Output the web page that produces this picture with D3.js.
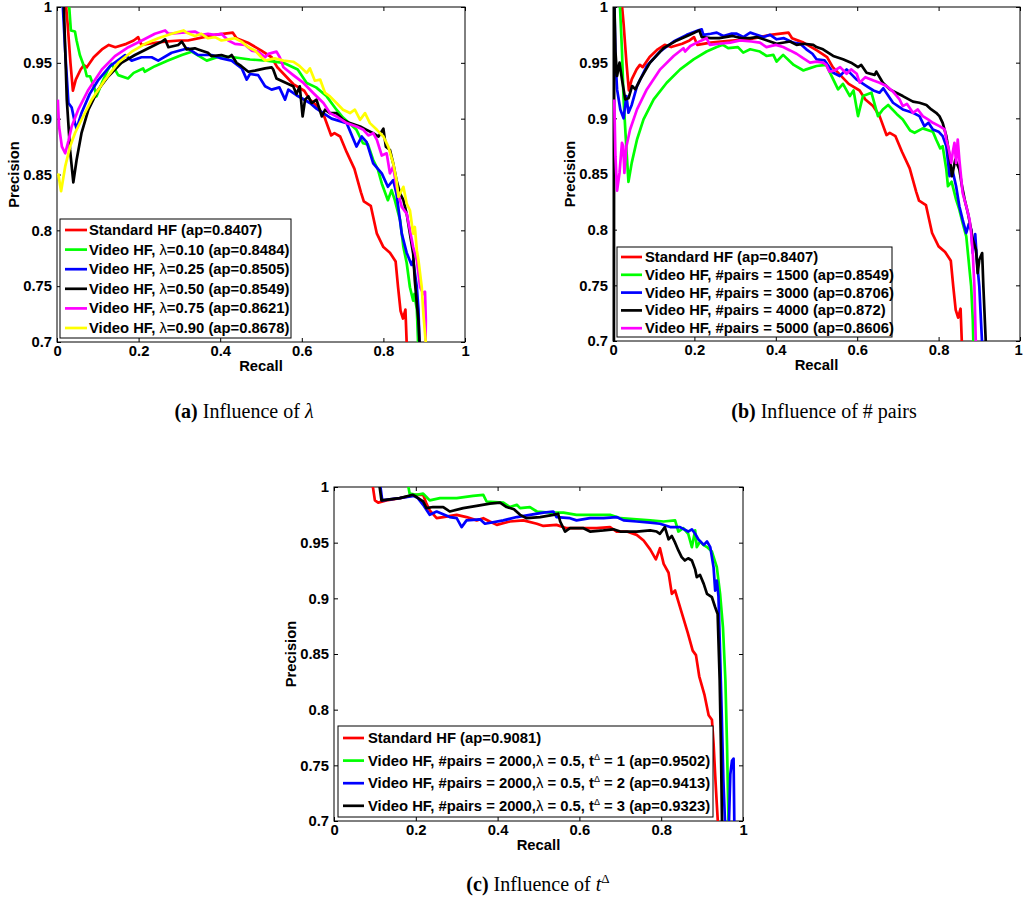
<!DOCTYPE html>
<html>
<head>
<meta charset="utf-8">
<script src="https://cdn.jsdelivr.net/npm/d3@7"></script>
<style>
  body { margin: 0; background: #fff; }
  svg { display: block; }
  .ax text, .lbl, .leg text { font-family: "Liberation Sans", Arial, Helvetica, sans-serif; font-weight: bold; font-size: 14.8px; fill: #000; }
  .cap { font-family: "Liberation Serif", "Times New Roman", serif; font-size: 20px; fill: #000; }
</style>
</head>
<body>
<div id="chart"></div>
<script>
// ticks
const xTicks = [0, 0.2, 0.4, 0.6, 0.8, 1];
const yTicks = [0.7, 0.75, 0.8, 0.85, 0.9, 0.95, 1];

// series [recall, precision]
const standardHF = [[0.020,1.01],[0.026,0.985],[0.033,0.95],[0.039,0.925],[0.046,0.935],[0.058,0.944],[0.066,0.948],[0.073,0.946],[0.09,0.955],[0.11,0.962],[0.127,0.966],[0.143,0.964],[0.17,0.967],[0.188,0.970],[0.199,0.973],[0.207,0.966],[0.24,0.968],[0.265,0.969],[0.30,0.970],[0.321,0.970],[0.36,0.973],[0.387,0.975],[0.431,0.977],[0.440,0.972],[0.468,0.968],[0.501,0.961],[0.526,0.955],[0.540,0.946],[0.579,0.931],[0.606,0.925],[0.620,0.917],[0.639,0.911],[0.655,0.902],[0.672,0.885],[0.680,0.887],[0.694,0.884],[0.710,0.870],[0.729,0.855],[0.745,0.834],[0.752,0.826],[0.769,0.822],[0.784,0.797],[0.800,0.785],[0.816,0.780],[0.830,0.772],[0.836,0.749],[0.842,0.728],[0.848,0.721],[0.854,0.729],[0.858,0.69]];

const lambda010 = [[0.028,1.01],[0.034,0.979],[0.044,0.978],[0.048,0.970],[0.056,0.957],[0.069,0.944],[0.073,0.938],[0.081,0.938],[0.093,0.926],[0.097,0.920],[0.11,0.932],[0.125,0.944],[0.134,0.949],[0.142,0.944],[0.150,0.939],[0.174,0.936],[0.188,0.941],[0.211,0.945],[0.215,0.942],[0.240,0.947],[0.272,0.952],[0.306,0.957],[0.330,0.960],[0.367,0.952],[0.40,0.956],[0.433,0.955],[0.473,0.953],[0.514,0.952],[0.555,0.950],[0.59,0.944],[0.612,0.932],[0.635,0.928],[0.661,0.920],[0.685,0.908],[0.701,0.901],[0.734,0.890],[0.750,0.878],[0.762,0.877],[0.775,0.863],[0.787,0.854],[0.796,0.842],[0.811,0.827],[0.820,0.836],[0.828,0.827],[0.841,0.809],[0.849,0.785],[0.857,0.771],[0.865,0.749],[0.873,0.737],[0.876,0.743],[0.882,0.729],[0.886,0.69]];

const lambda025 = [[0.013,1.01],[0.020,0.961],[0.028,0.914],[0.036,0.910],[0.044,0.896],[0.048,0.891],[0.06,0.905],[0.08,0.922],[0.10,0.934],[0.13,0.947],[0.167,0.957],[0.183,0.952],[0.207,0.955],[0.232,0.955],[0.248,0.952],[0.281,0.959],[0.321,0.963],[0.346,0.957],[0.379,0.957],[0.403,0.954],[0.428,0.952],[0.453,0.945],[0.465,0.935],[0.473,0.940],[0.493,0.939],[0.510,0.929],[0.526,0.926],[0.545,0.928],[0.559,0.917],[0.567,0.926],[0.587,0.921],[0.620,0.914],[0.636,0.909],[0.673,0.900],[0.710,0.896],[0.734,0.875],[0.747,0.884],[0.759,0.879],[0.775,0.860],[0.796,0.851],[0.811,0.839],[0.824,0.845],[0.832,0.833],[0.845,0.797],[0.857,0.780],[0.869,0.769],[0.873,0.773],[0.882,0.749],[0.886,0.729],[0.889,0.69]];

const lambda050 = [[0.016,1.01],[0.024,0.917],[0.032,0.872],[0.040,0.843],[0.048,0.863],[0.060,0.887],[0.077,0.908],[0.101,0.926],[0.126,0.938],[0.158,0.950],[0.191,0.957],[0.224,0.963],[0.257,0.969],[0.265,0.971],[0.273,0.964],[0.297,0.966],[0.306,0.969],[0.318,0.962],[0.338,0.963],[0.346,0.962],[0.370,0.959],[0.379,0.956],[0.403,0.957],[0.420,0.955],[0.428,0.957],[0.440,0.950],[0.452,0.947],[0.469,0.942],[0.485,0.943],[0.510,0.945],[0.526,0.946],[0.530,0.944],[0.538,0.936],[0.555,0.933],[0.579,0.929],[0.587,0.922],[0.595,0.929],[0.602,0.902],[0.608,0.917],[0.616,0.920],[0.624,0.914],[0.636,0.917],[0.649,0.902],[0.657,0.908],[0.669,0.905],[0.685,0.905],[0.701,0.899],[0.718,0.896],[0.743,0.893],[0.759,0.890],[0.775,0.887],[0.788,0.884],[0.800,0.891],[0.806,0.875],[0.816,0.872],[0.824,0.860],[0.832,0.845],[0.841,0.833],[0.849,0.827],[0.857,0.815],[0.865,0.797],[0.873,0.779],[0.877,0.755],[0.882,0.734],[0.886,0.719],[0.890,0.69]];

const lambda075 = [[0.002,0.917],[0.005,0.893],[0.012,0.875],[0.020,0.869],[0.028,0.880],[0.036,0.893],[0.052,0.908],[0.077,0.926],[0.110,0.944],[0.142,0.956],[0.175,0.964],[0.208,0.970],[0.240,0.976],[0.265,0.979],[0.273,0.976],[0.306,0.977],[0.338,0.978],[0.354,0.975],[0.370,0.976],[0.387,0.975],[0.403,0.976],[0.420,0.970],[0.436,0.967],[0.461,0.966],[0.477,0.961],[0.493,0.960],[0.510,0.955],[0.518,0.958],[0.538,0.960],[0.546,0.955],[0.555,0.946],[0.579,0.939],[0.604,0.932],[0.628,0.923],[0.653,0.914],[0.669,0.905],[0.685,0.902],[0.710,0.896],[0.734,0.893],[0.751,0.890],[0.763,0.885],[0.775,0.887],[0.784,0.881],[0.796,0.867],[0.808,0.869],[0.816,0.851],[0.824,0.857],[0.832,0.839],[0.845,0.821],[0.857,0.815],[0.865,0.800],[0.873,0.785],[0.882,0.773],[0.886,0.761],[0.890,0.749],[0.898,0.743],[0.902,0.745],[0.904,0.72],[0.903,0.69]];

const lambda090 = [[0.003,0.851],[0.010,0.835],[0.020,0.857],[0.032,0.875],[0.044,0.887],[0.060,0.899],[0.085,0.917],[0.118,0.935],[0.150,0.950],[0.183,0.960],[0.216,0.967],[0.248,0.972],[0.281,0.976],[0.310,0.979],[0.318,0.977],[0.338,0.974],[0.354,0.976],[0.370,0.972],[0.387,0.973],[0.403,0.970],[0.420,0.971],[0.436,0.972],[0.452,0.969],[0.469,0.964],[0.485,0.961],[0.501,0.955],[0.510,0.952],[0.534,0.954],[0.555,0.952],[0.579,0.951],[0.595,0.947],[0.612,0.941],[0.620,0.945],[0.632,0.934],[0.645,0.935],[0.657,0.923],[0.669,0.920],[0.685,0.914],[0.701,0.908],[0.718,0.905],[0.730,0.908],[0.743,0.899],[0.755,0.905],[0.767,0.896],[0.784,0.890],[0.800,0.884],[0.812,0.875],[0.824,0.860],[0.832,0.845],[0.837,0.830],[0.849,0.839],[0.857,0.824],[0.865,0.818],[0.873,0.797],[0.877,0.803],[0.882,0.782],[0.886,0.773],[0.894,0.749],[0.898,0.725],[0.906,0.69]];

const pairs1500 = [[0.016,1.01],[0.022,0.961],[0.026,0.917],[0.033,0.872],[0.038,0.843],[0.046,0.860],[0.059,0.881],[0.075,0.899],[0.100,0.917],[0.132,0.932],[0.165,0.944],[0.198,0.953],[0.230,0.960],[0.255,0.964],[0.270,0.966],[0.283,0.963],[0.307,0.964],[0.320,0.959],[0.337,0.962],[0.361,0.960],[0.377,0.956],[0.394,0.957],[0.402,0.951],[0.418,0.957],[0.435,0.951],[0.444,0.948],[0.468,0.943],[0.475,0.944],[0.500,0.947],[0.524,0.948],[0.533,0.941],[0.553,0.926],[0.565,0.931],[0.582,0.920],[0.591,0.925],[0.602,0.902],[0.614,0.920],[0.635,0.923],[0.651,0.902],[0.663,0.908],[0.676,0.912],[0.697,0.904],[0.712,0.899],[0.730,0.889],[0.741,0.887],[0.761,0.891],[0.786,0.888],[0.794,0.881],[0.804,0.873],[0.810,0.875],[0.819,0.854],[0.823,0.839],[0.832,0.843],[0.843,0.827],[0.851,0.818],[0.859,0.806],[0.868,0.794],[0.876,0.764],[0.880,0.749],[0.884,0.719],[0.886,0.69]];

const pairs3000 = [[0.003,1.01],[0.006,0.953],[0.010,0.926],[0.018,0.908],[0.026,0.900],[0.033,0.920],[0.038,0.905],[0.046,0.912],[0.059,0.929],[0.083,0.947],[0.116,0.960],[0.149,0.969],[0.181,0.975],[0.210,0.979],[0.218,0.980],[0.222,0.975],[0.240,0.976],[0.255,0.977],[0.271,0.974],[0.290,0.976],[0.304,0.976],[0.320,0.973],[0.337,0.977],[0.353,0.975],[0.370,0.973],[0.386,0.975],[0.402,0.971],[0.420,0.972],[0.443,0.968],[0.460,0.967],[0.475,0.962],[0.490,0.958],[0.500,0.953],[0.520,0.952],[0.541,0.941],[0.557,0.938],[0.574,0.944],[0.598,0.935],[0.623,0.929],[0.640,0.925],[0.655,0.923],[0.664,0.927],[0.688,0.914],[0.712,0.908],[0.737,0.905],[0.753,0.902],[0.765,0.893],[0.775,0.896],[0.786,0.890],[0.800,0.888],[0.810,0.884],[0.819,0.875],[0.827,0.848],[0.835,0.852],[0.843,0.839],[0.851,0.821],[0.859,0.809],[0.868,0.797],[0.874,0.805],[0.880,0.800],[0.884,0.779],[0.890,0.796],[0.894,0.773],[0.900,0.749],[0.904,0.719],[0.908,0.69]];

const pairs4000 = [[0.002,0.60],[0.003,1.01],[0.006,0.96],[0.010,0.938],[0.016,0.950],[0.022,0.935],[0.030,0.917],[0.038,0.918],[0.047,0.929],[0.055,0.926],[0.067,0.935],[0.091,0.950],[0.124,0.963],[0.157,0.970],[0.189,0.975],[0.212,0.979],[0.218,0.973],[0.240,0.972],[0.261,0.972],[0.294,0.974],[0.315,0.972],[0.337,0.972],[0.353,0.973],[0.370,0.971],[0.386,0.969],[0.402,0.967],[0.435,0.969],[0.451,0.966],[0.470,0.967],[0.492,0.966],[0.500,0.964],[0.516,0.962],[0.541,0.956],[0.565,0.953],[0.585,0.950],[0.602,0.946],[0.610,0.948],[0.623,0.941],[0.643,0.939],[0.647,0.942],[0.663,0.932],[0.680,0.926],[0.696,0.923],[0.712,0.920],[0.737,0.915],[0.753,0.914],[0.770,0.912],[0.782,0.908],[0.794,0.905],[0.802,0.902],[0.810,0.896],[0.819,0.884],[0.827,0.866],[0.833,0.848],[0.841,0.863],[0.851,0.854],[0.857,0.840],[0.864,0.827],[0.872,0.815],[0.880,0.800],[0.884,0.791],[0.892,0.782],[0.896,0.761],[0.900,0.773],[0.907,0.779],[0.910,0.749],[0.917,0.69]];

const pairs5000 = [[0.003,0.917],[0.006,0.866],[0.010,0.835],[0.016,0.851],[0.022,0.878],[0.025,0.875],[0.028,0.851],[0.033,0.875],[0.042,0.890],[0.059,0.908],[0.083,0.926],[0.116,0.944],[0.149,0.956],[0.173,0.963],[0.177,0.960],[0.190,0.965],[0.206,0.968],[0.230,0.972],[0.238,0.966],[0.260,0.967],[0.288,0.968],[0.312,0.970],[0.340,0.969],[0.361,0.968],[0.377,0.964],[0.400,0.966],[0.418,0.964],[0.435,0.961],[0.451,0.958],[0.467,0.954],[0.484,0.950],[0.500,0.951],[0.516,0.950],[0.524,0.948],[0.532,0.942],[0.545,0.943],[0.558,0.946],[0.574,0.940],[0.585,0.944],[0.599,0.940],[0.606,0.932],[0.620,0.937],[0.640,0.934],[0.655,0.932],[0.672,0.929],[0.688,0.924],[0.704,0.917],[0.712,0.911],[0.722,0.913],[0.737,0.905],[0.749,0.908],[0.761,0.902],[0.774,0.899],[0.786,0.896],[0.802,0.893],[0.815,0.890],[0.819,0.881],[0.825,0.872],[0.831,0.860],[0.835,0.870],[0.839,0.878],[0.843,0.860],[0.847,0.881],[0.851,0.863],[0.859,0.833],[0.868,0.821],[0.876,0.809],[0.880,0.797],[0.884,0.779],[0.888,0.749],[0.892,0.69]];

const standardHF2 = [[0.091,1.01],[0.100,0.988],[0.108,0.986],[0.128,0.988],[0.161,0.990],[0.202,0.993],[0.218,0.993],[0.226,0.985],[0.234,0.979],[0.251,0.972],[0.267,0.973],[0.300,0.975],[0.324,0.973],[0.349,0.970],[0.365,0.972],[0.381,0.969],[0.398,0.966],[0.430,0.969],[0.463,0.970],[0.496,0.967],[0.512,0.965],[0.544,0.966],[0.569,0.963],[0.602,0.963],[0.642,0.963],[0.675,0.964],[0.691,0.960],[0.716,0.960],[0.740,0.957],[0.757,0.952],[0.773,0.944],[0.787,0.935],[0.797,0.945],[0.806,0.931],[0.818,0.923],[0.826,0.904],[0.834,0.907],[0.842,0.897],[0.851,0.886],[0.865,0.869],[0.877,0.853],[0.885,0.849],[0.893,0.830],[0.906,0.813],[0.916,0.795],[0.924,0.791],[0.928,0.770],[0.932,0.741],[0.936,0.715],[0.940,0.69]];

const tDelta1 = [[0.177,1.01],[0.185,0.994],[0.202,0.993],[0.218,0.994],[0.226,0.991],[0.234,0.988],[0.259,0.990],[0.300,0.990],[0.340,0.992],[0.365,0.993],[0.373,0.987],[0.414,0.986],[0.430,0.982],[0.447,0.984],[0.455,0.981],[0.479,0.982],[0.496,0.978],[0.528,0.977],[0.561,0.977],[0.593,0.975],[0.634,0.975],[0.675,0.975],[0.700,0.972],[0.740,0.971],[0.773,0.970],[0.806,0.969],[0.834,0.970],[0.842,0.960],[0.854,0.963],[0.866,0.958],[0.875,0.946],[0.883,0.961],[0.887,0.946],[0.895,0.951],[0.903,0.948],[0.912,0.946],[0.924,0.942],[0.936,0.928],[0.944,0.904],[0.951,0.874],[0.957,0.826],[0.961,0.767],[0.965,0.69]];

const tDelta2 = [[0.110,1.01],[0.118,0.988],[0.16,0.990],[0.195,0.992],[0.205,0.990],[0.218,0.984],[0.234,0.975],[0.251,0.978],[0.283,0.973],[0.300,0.972],[0.312,0.964],[0.324,0.970],[0.357,0.971],[0.369,0.967],[0.414,0.970],[0.447,0.973],[0.479,0.975],[0.512,0.977],[0.536,0.978],[0.544,0.973],[0.577,0.972],[0.593,0.970],[0.626,0.972],[0.659,0.972],[0.691,0.973],[0.708,0.970],[0.740,0.969],[0.773,0.968],[0.797,0.967],[0.822,0.964],[0.846,0.964],[0.866,0.960],[0.875,0.962],[0.883,0.958],[0.891,0.953],[0.904,0.948],[0.912,0.951],[0.920,0.946],[0.928,0.928],[0.932,0.907],[0.936,0.916],[0.940,0.902],[0.944,0.850],[0.948,0.796],[0.952,0.737],[0.957,0.69],[0.965,0.69],[0.969,0.742],[0.973,0.754],[0.977,0.756],[0.979,0.69]];

const tDelta3 = [[0.108,1.01],[0.116,0.988],[0.161,0.990],[0.193,0.993],[0.202,0.991],[0.218,0.987],[0.226,0.981],[0.242,0.982],[0.267,0.982],[0.283,0.978],[0.316,0.981],[0.349,0.983],[0.381,0.985],[0.406,0.986],[0.422,0.982],[0.440,0.980],[0.455,0.975],[0.471,0.972],[0.504,0.973],[0.536,0.975],[0.548,0.976],[0.553,0.969],[0.565,0.960],[0.577,0.963],[0.610,0.963],[0.626,0.960],[0.659,0.961],[0.683,0.962],[0.700,0.960],[0.740,0.960],[0.773,0.961],[0.789,0.960],[0.797,0.958],[0.809,0.964],[0.818,0.953],[0.826,0.956],[0.834,0.950],[0.842,0.943],[0.850,0.937],[0.858,0.934],[0.866,0.936],[0.875,0.934],[0.883,0.926],[0.887,0.919],[0.895,0.921],[0.904,0.913],[0.912,0.904],[0.924,0.901],[0.932,0.892],[0.938,0.886],[0.943,0.826],[0.946,0.767],[0.949,0.69]];

// legend labels
const labelsA = ["Standard HF (ap=0.8407)", "Video HF, λ=0.10 (ap=0.8484)", "Video HF, λ=0.25 (ap=0.8505)",
  "Video HF, λ=0.50 (ap=0.8549)", "Video HF, λ=0.75 (ap=0.8621)", "Video HF, λ=0.90 (ap=0.8678)"];
const labelsB = ["Standard HF (ap=0.8407)", "Video HF, #pairs = 1500 (ap=0.8549)", "Video HF, #pairs = 3000 (ap=0.8706)",
  "Video HF, #pairs = 4000 (ap=0.872)", "Video HF, #pairs = 5000 (ap=0.8606)"];
const labelsC = ["Standard HF (ap=0.9081)", "Video HF, #pairs = 2000,λ = 0.5, t^Δ = 1 (ap=0.9502)",
  "Video HF, #pairs = 2000,λ = 0.5, t^Δ = 2 (ap=0.9413)", "Video HF, #pairs = 2000,λ = 0.5, t^Δ = 3 (ap=0.9323)"];

const colorsA = ["#ff0000", "#00ff00", "#0000ff", "#000000", "#ff00ff", "#ffff00"];
const colorsB = ["#ff0000", "#00ff00", "#0000ff", "#000000", "#ff00ff"];
const colorsC = ["#ff0000", "#00ff00", "#0000ff", "#000000"];

const W = 1023, H = 909;
const svg = d3.select("#chart").append("svg").attr("width", W).attr("height", H);

function richText(t, str) {
  const parts = str.split(/(λ|\^Δ)/);
  let lift = 0;
  parts.forEach(p => {
    if (!p) return;
    if (p === "λ") {
      t.append("tspan").attr("font-weight", "normal").attr("dy", lift).text("λ");
      lift = 0;
    } else if (p === "^Δ") {
      t.append("tspan").attr("font-weight", "normal").style("font-size", "9px").attr("dy", -6 + lift).text("Δ");
      lift = 6;
    } else {
      t.append("tspan").attr("dy", lift).text(p);
      lift = 0;
    }
  });
}

function drawPanel(p) {
  const x = d3.scaleLinear().domain([0, 1]).range([p.left, p.right]);
  const y = d3.scaleLinear().domain([0.7, 1]).range([p.bottom, p.top]);
  const g = svg.append("g");

  g.append("clipPath").attr("id", p.id + "clip")
    .append("rect").attr("x", p.left).attr("y", p.top)
    .attr("width", p.right - p.left).attr("height", p.bottom - p.top);

  const fmt = d => String(d);
  g.append("g").attr("class", "ax").attr("transform", `translate(${p.left},0)`)
    .call(d3.axisLeft(y).tickValues(yTicks).tickFormat(fmt).tickSize(-4).tickPadding(5));
  const bx = g.append("g").attr("class", "ax").attr("transform", `translate(0,${p.bottom})`)
    .call(d3.axisBottom(x).tickValues(xTicks).tickFormat(fmt).tickSize(-4).tickPadding(3));
  // keep the last label inside the page when the panel reaches the edge
  if (p.right > W - 6) bx.selectAll(".tick text").filter(d => d === 1).attr("dx", -2);
  g.append("g").attr("class", "ax").attr("transform", `translate(${p.right},0)`)
    .call(d3.axisRight(y).tickValues(yTicks).tickFormat("").tickSize(-4));
  g.append("g").attr("class", "ax").attr("transform", `translate(0,${p.top})`)
    .call(d3.axisTop(x).tickValues(xTicks).tickFormat("").tickSize(-4));
  g.selectAll(".ax .domain").remove();
  g.selectAll(".ax line").attr("stroke", "#000");
  g.selectAll(".ax text").attr("fill", "#000");

  g.append("rect").attr("x", p.left).attr("y", p.top)
    .attr("width", p.right - p.left).attr("height", p.bottom - p.top)
    .attr("fill", "none").attr("stroke", "#000").attr("stroke-width", 1);

  const line = d3.line().x(d => x(d[0])).y(d => y(d[1]));
  g.append("g").attr("clip-path", `url(#${p.id}clip)`)
    .selectAll("path").data(p.series).join("path")
    .attr("d", line).attr("fill", "none")
    .attr("stroke", (d, i) => p.colors[i]).attr("stroke-width", 2.7)
    .attr("stroke-linejoin", "round");

  // axis labels
  g.append("text").attr("class", "lbl").attr("text-anchor", "middle")
    .attr("x", (p.left + p.right) / 2).attr("y", p.bottom + 29).text("Recall");
  g.append("text").attr("class", "lbl").attr("text-anchor", "middle")
    .attr("transform", `translate(${p.left - 38},${(p.top + p.bottom) / 2}) rotate(-90)`).text("Precision");

  // legend
  const L = p.legend;
  const lg = g.append("g").attr("class", "leg");
  lg.append("rect").attr("x", L.x0).attr("y", L.y0).attr("width", L.x1 - L.x0).attr("height", L.y1 - L.y0)
    .attr("fill", "#fff").attr("stroke", "#000").attr("stroke-width", 1);
  p.labels.forEach((lab, i) => {
    const yy = L.rowY + i * L.step;
    lg.append("line").attr("x1", L.lx0).attr("x2", L.lx1).attr("y1", yy).attr("y2", yy)
      .attr("stroke", p.colors[i]).attr("stroke-width", 2.7);
    const t = lg.append("text").attr("x", L.tx).attr("y", yy + 5);
    richText(t, lab);
  });

  // caption
  const c = g.append("text").attr("class", "cap").attr("text-anchor", "middle")
    .attr("x", p.cap.x).attr("y", p.cap.y);
  c.append("tspan").attr("font-weight", "bold").text(p.cap.tag);
  c.append("tspan").text(" Influence of ");
  p.cap.parts.forEach(q => {
    const s = c.append("tspan").text(q.t);
    if (q.italic) s.attr("font-style", "italic");
    if (q.sup) s.style("font-size", "13px").attr("dy", -8);
  });
}

drawPanel({
  id: "a", left: 57, right: 465, top: 7, bottom: 342,
  series: [standardHF, lambda010, lambda025, lambda050, lambda075, lambda090],
  colors: colorsA, labels: labelsA,
  legend: { x0: 60, x1: 291, y0: 219, y1: 338, rowY: 230, step: 19.6, lx0: 65, lx1: 87, tx: 89 },
  cap: { x: 244, y: 418, tag: "(a)", parts: [{ t: "λ", italic: true }] }
});

drawPanel({
  id: "b", left: 613, right: 1020, top: 7, bottom: 341,
  series: [standardHF, pairs1500, pairs3000, pairs4000, pairs5000],
  colors: colorsB, labels: labelsB,
  legend: { x0: 617, x1: 892, y0: 247, y1: 337, rowY: 257, step: 17.8, lx0: 621, lx1: 642, tx: 645 },
  cap: { x: 824, y: 418, tag: "(b)", parts: [{ t: "# pairs" }] }
});

drawPanel({
  id: "c", left: 334, right: 743, top: 487, bottom: 821,
  series: [standardHF2, tDelta1, tDelta2, tDelta3],
  colors: colorsC, labels: labelsC,
  legend: { x0: 338, x1: 713, y0: 726, y1: 817, rowY: 738, step: 22.6, lx0: 343, lx1: 364, tx: 368 },
  cap: { x: 538, y: 891, tag: "(c)", parts: [{ t: "t", italic: true }, { t: "Δ", sup: true }] }
});
</script>
</body>
</html>
